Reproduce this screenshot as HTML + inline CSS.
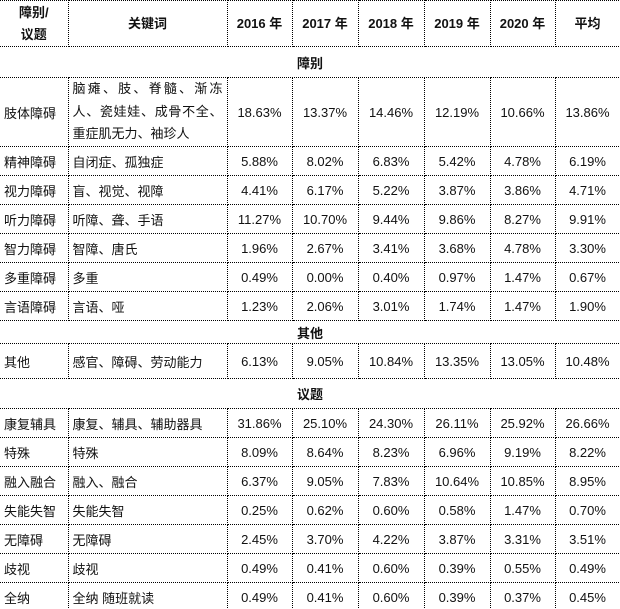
<!DOCTYPE html>
<html><head><meta charset="utf-8"><style>
html,body{margin:0;padding:0;background:#fff;width:620px;height:609px;overflow:hidden}
table{border-collapse:collapse;table-layout:fixed;width:620px;font-family:"Liberation Sans","Noto Sans CJK SC",sans-serif;font-size:13px;color:#111}
td,th{border:1px dotted #000;padding:0 4px;text-align:center;vertical-align:middle;overflow:hidden}
th{font-weight:bold;line-height:22px}
td.l{text-align:left}
td.kw{text-align:justify;line-height:22.5px}
tr.r td{height:28px}
tr.sec td{font-weight:bold;border-left:none;border-right:none}
table tr td:first-child,table tr th:first-child{border-left:none}
</style></head><body>
<table>
<colgroup><col style="width:68px"><col style="width:159px"><col style="width:65px"><col style="width:66px"><col style="width:66px"><col style="width:66px"><col style="width:65px"><col style="width:65px"></colgroup>
<tr style="height:46px"><th>障别/<br>议题</th><th>关键词</th><th>2016 年</th><th>2017 年</th><th>2018 年</th><th>2019 年</th><th>2020 年</th><th>平均</th></tr>
<tr class="sec"><td colspan="8" style="height:30px">障别</td></tr>
<tr><td class="l" style="height:68px">肢体障碍</td><td class="kw">脑瘫、肢、脊髓、渐冻人、瓷娃娃、成骨不全、重症肌无力、袖珍人</td><td>18.63%</td><td>13.37%</td><td>14.46%</td><td>12.19%</td><td>10.66%</td><td>13.86%</td></tr>
<tr class="r"><td class="l">精神障碍</td><td class="l">自闭症、孤独症</td><td>5.88%</td><td>8.02%</td><td>6.83%</td><td>5.42%</td><td>4.78%</td><td>6.19%</td></tr>
<tr class="r"><td class="l">视力障碍</td><td class="l">盲、视觉、视障</td><td>4.41%</td><td>6.17%</td><td>5.22%</td><td>3.87%</td><td>3.86%</td><td>4.71%</td></tr>
<tr class="r"><td class="l">听力障碍</td><td class="l">听障、聋、手语</td><td>11.27%</td><td>10.70%</td><td>9.44%</td><td>9.86%</td><td>8.27%</td><td>9.91%</td></tr>
<tr class="r"><td class="l">智力障碍</td><td class="l">智障、唐氏</td><td>1.96%</td><td>2.67%</td><td>3.41%</td><td>3.68%</td><td>4.78%</td><td>3.30%</td></tr>
<tr class="r"><td class="l">多重障碍</td><td class="l">多重</td><td>0.49%</td><td>0.00%</td><td>0.40%</td><td>0.97%</td><td>1.47%</td><td>0.67%</td></tr>
<tr class="r"><td class="l">言语障碍</td><td class="l">言语、哑</td><td>1.23%</td><td>2.06%</td><td>3.01%</td><td>1.74%</td><td>1.47%</td><td>1.90%</td></tr>
<tr class="sec"><td colspan="8" style="height:22px">其他</td></tr>
<tr><td class="l" style="height:34px">其他</td><td class="l">感官、障碍、劳动能力</td><td>6.13%</td><td>9.05%</td><td>10.84%</td><td>13.35%</td><td>13.05%</td><td>10.48%</td></tr>
<tr class="sec"><td colspan="8" style="height:29px">议题</td></tr>
<tr class="r"><td class="l">康复辅具</td><td class="l">康复、辅具、辅助器具</td><td>31.86%</td><td>25.10%</td><td>24.30%</td><td>26.11%</td><td>25.92%</td><td>26.66%</td></tr>
<tr class="r"><td class="l">特殊</td><td class="l">特殊</td><td>8.09%</td><td>8.64%</td><td>8.23%</td><td>6.96%</td><td>9.19%</td><td>8.22%</td></tr>
<tr class="r"><td class="l">融入融合</td><td class="l">融入、融合</td><td>6.37%</td><td>9.05%</td><td>7.83%</td><td>10.64%</td><td>10.85%</td><td>8.95%</td></tr>
<tr class="r"><td class="l">失能失智</td><td class="l">失能失智</td><td>0.25%</td><td>0.62%</td><td>0.60%</td><td>0.58%</td><td>1.47%</td><td>0.70%</td></tr>
<tr class="r"><td class="l">无障碍</td><td class="l">无障碍</td><td>2.45%</td><td>3.70%</td><td>4.22%</td><td>3.87%</td><td>3.31%</td><td>3.51%</td></tr>
<tr class="r"><td class="l">歧视</td><td class="l">歧视</td><td>0.49%</td><td>0.41%</td><td>0.60%</td><td>0.39%</td><td>0.55%</td><td>0.49%</td></tr>
<tr class="r"><td class="l">全纳</td><td class="l">全纳 随班就读</td><td>0.49%</td><td>0.41%</td><td>0.60%</td><td>0.39%</td><td>0.37%</td><td>0.45%</td></tr>
</table>
</body></html>
